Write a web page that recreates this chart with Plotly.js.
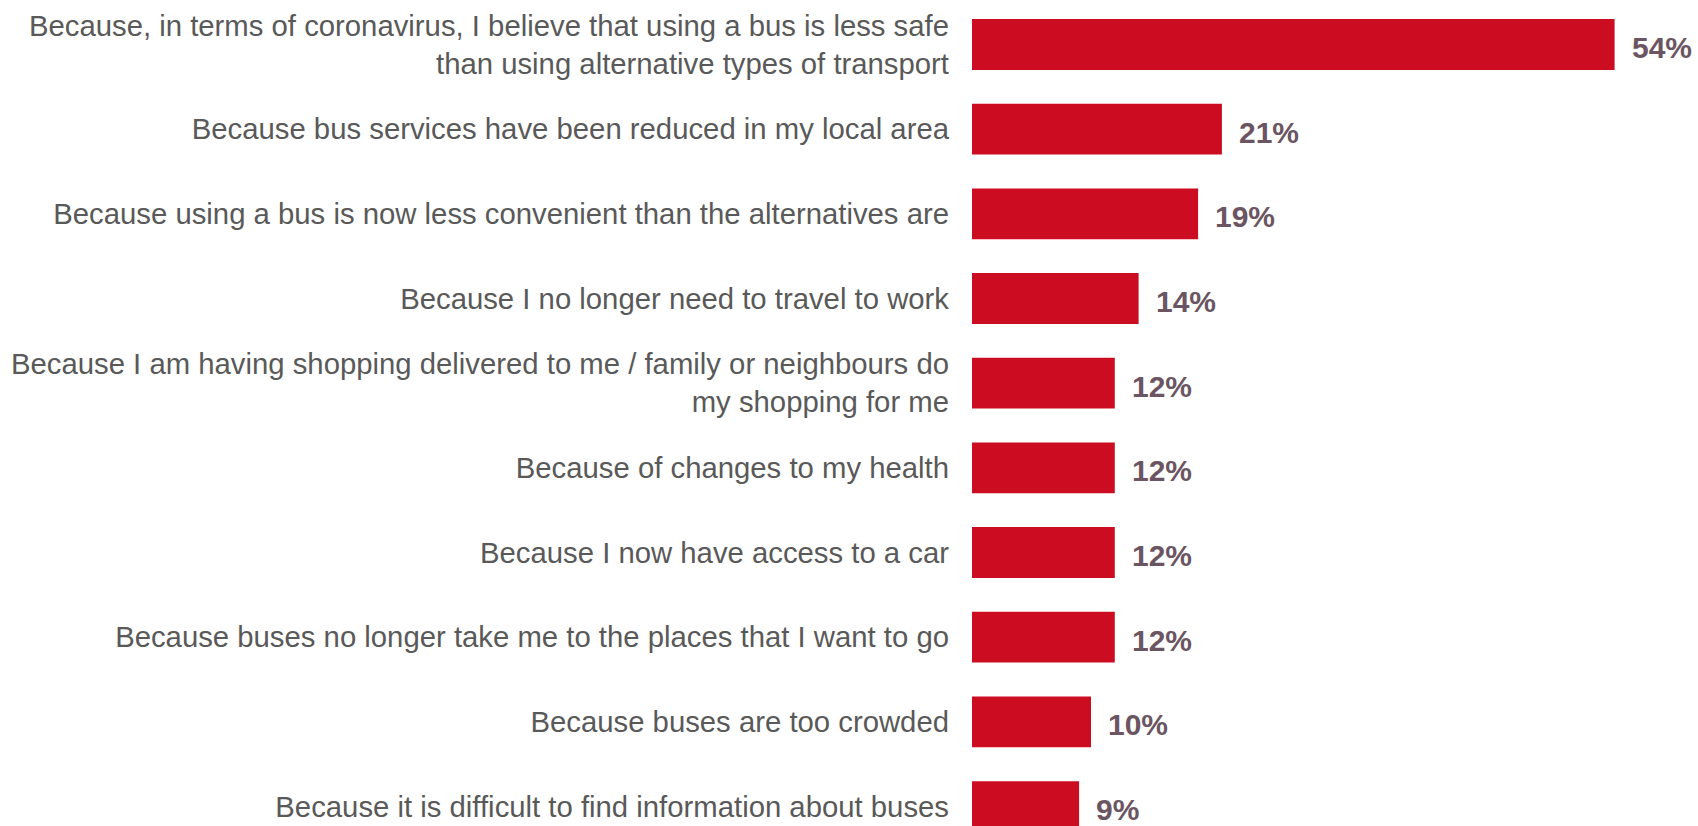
<!DOCTYPE html>
<html>
<head>
<meta charset="utf-8">
<script src="https://cdn.plot.ly/plotly-3.0.1.min.js"></script>
<style>
  html, body { margin: 0; padding: 0; background: #fff; }
  #chart { width: 1698px; height: 826px; }
</style>
</head>
<body>
<div id="chart"></div>
<script>
const categories = [
  "Because, in terms of coronavirus, I believe that using a bus is less safe<br>than using alternative types of transport",
  "Because bus services have been reduced in my local area",
  "Because using a bus is now less convenient than the alternatives are",
  "Because I no longer need to travel to work",
  "Because I am having shopping delivered to me / family or neighbours do<br>my shopping for me",
  "Because of changes to my health",
  "Because I now have access to a car",
  "Because buses no longer take me to the places that I want to go",
  "Because buses are too crowded",
  "Because it is difficult to find information about buses"
];
const values = [54, 21, 19, 14, 12, 12, 12, 12, 10, 9];
const valueLabels = ["54%", "21%", "19%", "14%", "12%", "12%", "12%", "12%", "10%", "9%"];

const FONT = "'Liberation Sans', Arial, sans-serif";

const trace = {
  type: 'bar',
  orientation: 'h',
  y: categories,
  x: values,
  width: 0.6,
  marker: { color: '#CC0C20' },
  hoverinfo: 'skip'
};

const annotations = categories.map((c, i) => ({
  x: values[i],
  y: c,
  xref: 'x',
  yref: 'y',
  text: valueLabels[i],
  showarrow: false,
  xanchor: 'left',
  yanchor: 'middle',
  xshift: 15,
  yshift: -3,
  font: { family: FONT, size: 30, color: '#6B5562', weight: 'bold' }
}));

const layout = {
  width: 1698,
  height: 826,
  margin: { l: 972, r: 12, t: 0, b: 0, pad: 0 },
  paper_bgcolor: '#ffffff',
  plot_bgcolor: '#ffffff',
  showlegend: false,
  xaxis: {
    range: [0, 60],
    visible: false,
    showgrid: false,
    zeroline: false
  },
  yaxis: {
    type: 'category',
    range: [9.23, -0.5256],
    showgrid: false,
    zeroline: false,
    showline: false,
    ticks: '',
    ticklabelstandoff: 22,
    tickfont: { family: FONT, size: 29.3, color: '#595959' }
  },
  annotations: annotations
};

Plotly.newPlot('chart', [trace], layout, { displayModeBar: false, staticPlot: true });
</script>
</body>
</html>
